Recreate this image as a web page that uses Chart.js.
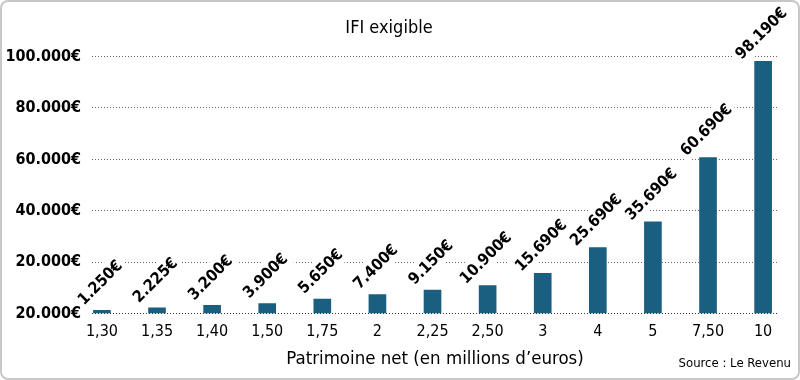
<!DOCTYPE html>
<html>
<head>
<meta charset="utf-8">
<script src="https://cdn.jsdelivr.net/npm/chart.js@4.4.1/dist/chart.umd.min.js"></script>
<style>
  html, body { margin: 0; padding: 0; background: #fff; }
  #wrap { position: relative; width: 800px; height: 380px; }
  #frame { position: absolute; left: 0; top: 0; width: 796px; height: 376px; border: 2px solid #c8c8c8; border-radius: 8px; pointer-events: none; }
</style>
</head>
<body>
<div id="wrap">
  <canvas id="c" width="800" height="380"></canvas>
  <div id="frame"></div>
</div>
<script>
const categories = ['1,30','1,35','1,40','1,50','1,75','2','2,25','2,50','3','4','5','7,50','10'];
const values = [1250, 2225, 3200, 3900, 5650, 7400, 9150, 10900, 15690, 25690, 35690, 60690, 98190];
const yTickValues = [0, 20000, 40000, 60000, 80000, 100000];
const yTickLabels = ['20.000€', '20.000€', '40.000€', '60.000€', '80.000€', '100.000€'];
const titleText = 'IFI exigible';
const xTitleText = 'Patrimoine net (en millions d\u2019euros)';
const sourceText = 'Source : Le Revenu';

const FONT = "'Liberation Sans Narrow', 'DejaVu Sans Condensed', sans-serif";
Chart.defaults.font.family = FONT;
Chart.defaults.color = '#000';

function fmt(v) {
  return String(v).replace(/\B(?=(\d{3})+(?!\d))/g, '.') + '€';
}

const LABEL_FONT = 'bold 16px ' + FONT;
const LABEL_DX = -2;
const LABEL_DY = -28;

const labelPlugin = {
  id: 'valueLabels',
  beforeDatasetsDraw(chart) {
    const ctx = chart.ctx;
    const meta = chart.getDatasetMeta(0);
    ctx.save();
    ctx.font = LABEL_FONT;
    meta.data.forEach((bar, i) => {
      const t = fmt(values[i]);
      const w = ctx.measureText(t).width + 6;
      const h = 22;
      ctx.save();
      ctx.translate(bar.x + LABEL_DX, bar.y + LABEL_DY);
      ctx.rotate(-Math.PI / 4);
      ctx.fillStyle = '#fff';
      ctx.fillRect(-w / 2, -h / 2, w, h);
      ctx.restore();
    });
    ctx.restore();
  },
  afterDatasetsDraw(chart) {
    const ctx = chart.ctx;
    const meta = chart.getDatasetMeta(0);
    ctx.save();
    ctx.font = LABEL_FONT;
    ctx.fillStyle = '#000';
    ctx.textAlign = 'center';
    ctx.textBaseline = 'middle';
    meta.data.forEach((bar, i) => {
      ctx.save();
      ctx.translate(bar.x + LABEL_DX, bar.y + LABEL_DY);
      ctx.rotate(-Math.PI / 4);
      ctx.fillText(fmt(values[i]), 0, 1);
      ctx.restore();
    });
    ctx.restore();
  },
  afterDraw(chart) {
    const ctx = chart.ctx;
    ctx.save();
    ctx.font = '13px ' + FONT;
    ctx.fillStyle = '#000';
    ctx.textAlign = 'right';
    ctx.textBaseline = 'middle';
    ctx.fillText(sourceText, 791, 364);
    ctx.restore();
  }
};

new Chart(document.getElementById('c'), {
  type: 'bar',
  data: {
    datasets: [{
      data: values.map((v, i) => ({ x: i, y: v })),
      backgroundColor: '#1a5e80',
      borderWidth: 0,
      barThickness: 17
    }]
  },
  options: {
    responsive: false,
    animation: false,
    events: [],
    layout: { padding: { left: 0, right: 22, top: 0, bottom: 10 } },
    plugins: {
      legend: { display: false },
      tooltip: { enabled: false },
      title: {
        display: true,
        text: titleText,
        font: { size: 18, weight: 'normal' },
        color: '#000',
        padding: { top: 18, bottom: 17 }
      }
    },
    scales: {
      x: {
        type: 'linear',
        offset: false,
        min: -0.18,
        max: 12.27,
        grid: { display: false, drawTicks: false, offset: false },
        border: { display: false },
        afterBuildTicks(scale) {
          scale.ticks = categories.map((c, i) => ({ value: i }));
        },
        ticks: {
          padding: 9,
          autoSkip: false,
          maxRotation: 0,
          font: { size: 16 },
          color: '#000',
          callback(v) { return categories[v]; }
        },
        title: {
          display: true,
          text: xTitleText,
          font: { size: 18.5 },
          color: '#000',
          padding: { top: -3, bottom: 0 }
        }
      },
      y: {
        min: 0,
        max: 100000,
        afterBuildTicks(scale) {
          scale.ticks = yTickValues.map(v => ({ value: v }));
        },
        afterFit(scale) { scale.width = 92; },
        grid: {
          drawTicks: false,
          color: (c) => c.tick && c.tick.value === 0 ? '#333' : '#666',
          lineWidth: 1
        },
        border: { display: false, dash: [1, 2] },
        ticks: {
          padding: 11,
          font: { size: 16, weight: 'bold' },
          color: '#000',
          callback(v) {
            const i = yTickValues.indexOf(v);
            return i >= 0 ? yTickLabels[i] : '';
          }
        }
      }
    }
  },
  plugins: [labelPlugin]
});
</script>
</body>
</html>
